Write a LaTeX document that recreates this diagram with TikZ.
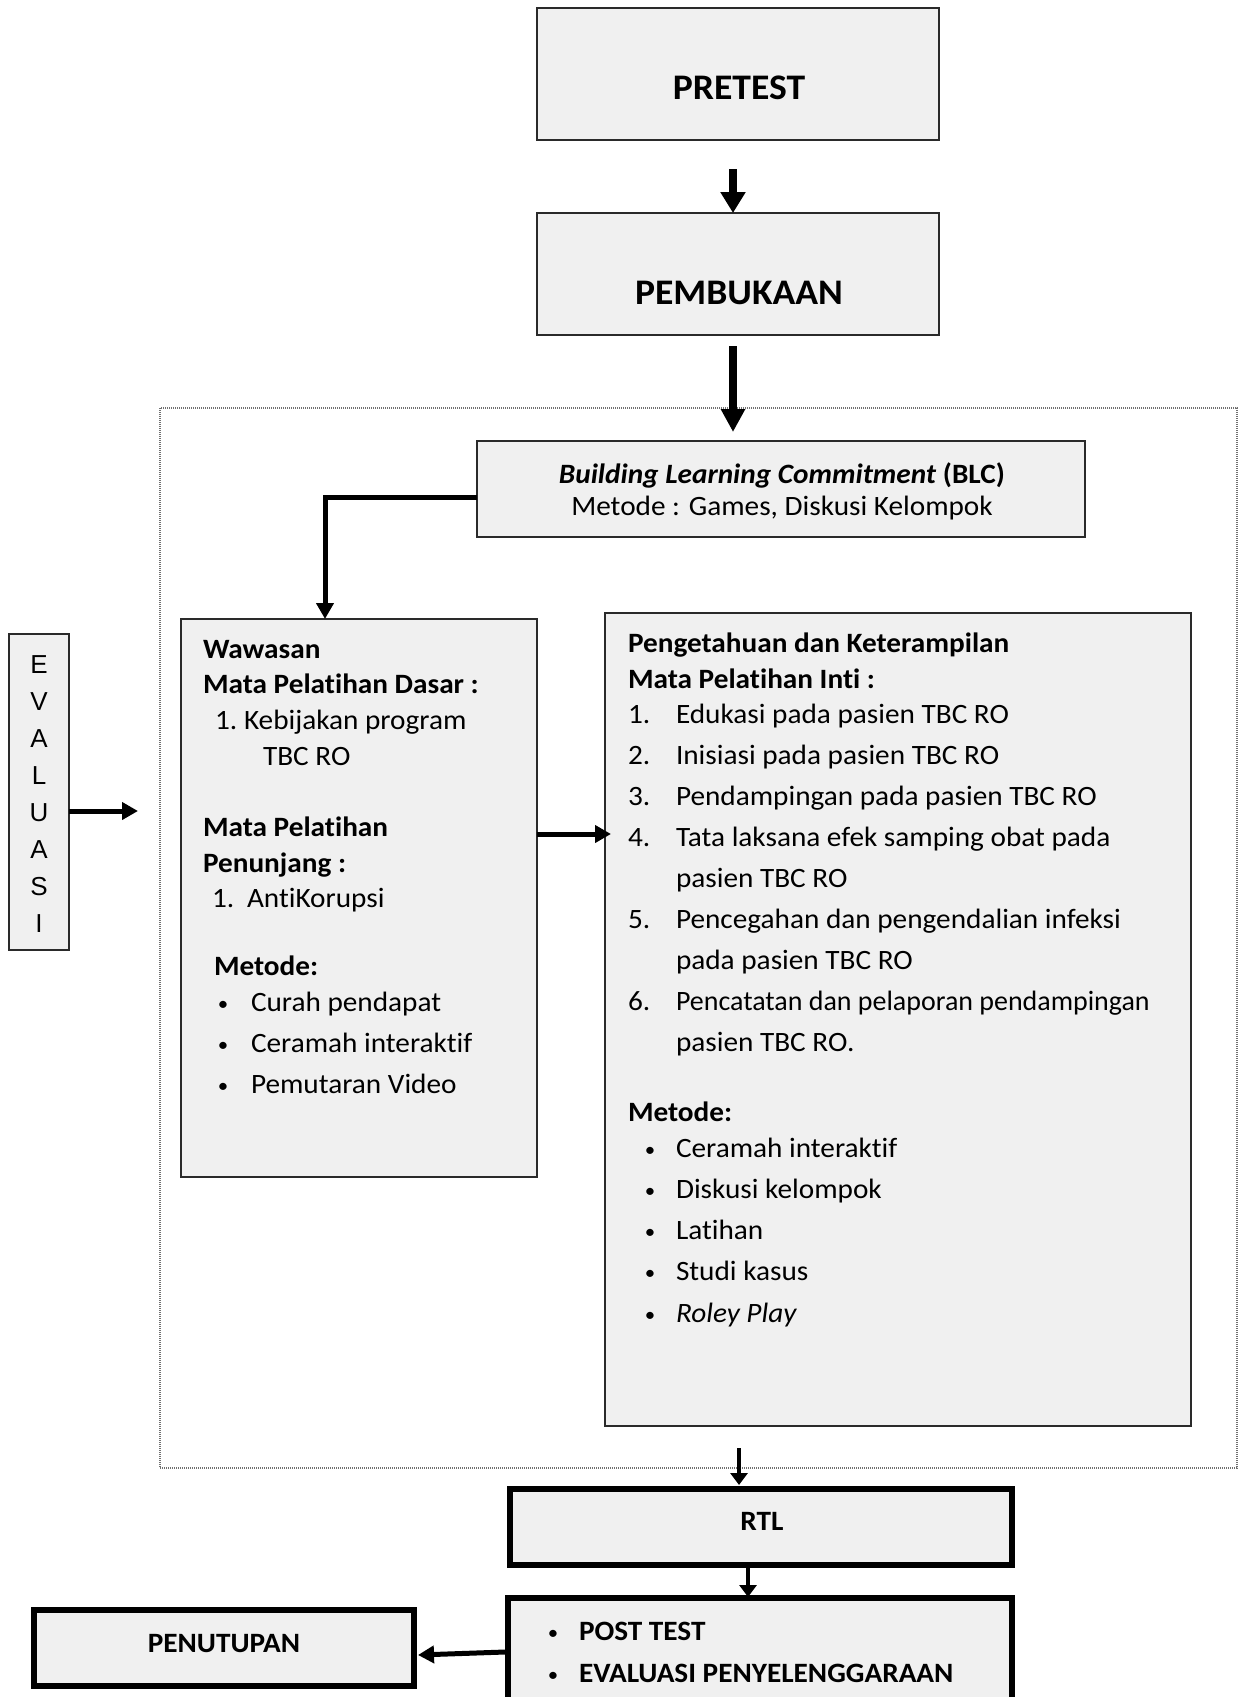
\documentclass[tikz,border=0pt]{standalone}
\usepackage{fontspec}
\setmainfont{Carlito}[Ligatures=NoCommon, FakeStretch=1.045]
\newfontfamily\arialfont{Liberation Sans}
\usetikzlibrary{arrows.meta}
\definecolor{boxfill}{HTML}{F0F0F0}
\definecolor{boxline}{HTML}{2A2A2A}
\definecolor{dotline}{HTML}{707070}
\tikzset{
  thinbox/.style={draw=boxline, line width=1.6pt, fill=boxfill, inner sep=0pt, outer sep=0pt},
  thickbox/.style={draw=black, line width=6pt, fill=boxfill, inner sep=0pt, outer sep=0pt},
  dotbox/.style={draw=dotline, line width=1.1pt, dash pattern=on 1pt off 1pt, inner sep=0pt, outer sep=0pt},
  body/.style={anchor=base west, inner sep=0pt, outer sep=0pt, font=\fontsize{28}{33}\selectfont},
  bodyc/.style={anchor=base, inner sep=0pt, outer sep=0pt, font=\fontsize{28}{33}\selectfont},
  bul/.style={anchor=base, inner sep=0pt, outer sep=0pt, font=\fontsize{20}{24}\selectfont},
  bigtitle/.style={anchor=base, inner sep=0pt, outer sep=0pt, font=\fontsize{36}{42}\selectfont\bfseries},
  smalltitle/.style={anchor=base, inner sep=0pt, outer sep=0pt, font=\fontsize{28}{33}\selectfont\bfseries},
  evl/.style={anchor=base, inner sep=0pt, outer sep=0pt, font=\fontsize{26}{30}\arialfont},
  arrA/.style={-{Triangle[length=21pt,width=24pt]}, line width=7.5pt},
  arrB/.style={-{Triangle[length=23pt,width=23pt]}, line width=8.5pt},
  arrC/.style={-{Triangle[length=16pt,width=17pt]}, line width=5pt},
  arrD/.style={-{Triangle[length=12pt,width=17pt]}, line width=4pt},
}
\begin{document}
\begin{tikzpicture}[x=1pt,y=-1pt]
\path[use as bounding box, clip] (0,0) rectangle (1240,1697);
\fill[white] (0,0) rectangle (1240,1697);

% frame
\node[dotbox, minimum width=1077pt, minimum height=1060pt] (frame) at (698.5,938) {};

% top boxes
\node[thinbox, minimum width=402pt, minimum height=132pt] (pretest) at (738,74) {};
\node[bigtitle] (pretesttxt) at (739,99) {PRETEST};
\node[thinbox, minimum width=402pt, minimum height=122pt] (pembukaan) at (738,274) {};
\node[bigtitle] (pembukaantxt) at (739,304) {PEMBUKAAN};

\coordinate (a1s) at (733,169);
\draw[arrA] (a1s) -- (a1s |- pembukaan.north);
\coordinate (a2s) at (733,346);
\coordinate (a2e) at (733,432);
\draw[arrB] (a2s) -- (a2e);

% BLC
\node[thinbox, minimum width=608pt, minimum height=96pt] (blc) at (781,489) {};
\node[bodyc] (blc1) at (782,483) {\textbf{\textit{Building Learning Commitment}} \textbf{(BLC)}};
\node[bodyc] (blc2) at (782,515) {Metode : Games, Diskusi Kelompok};

% left box
\node[thinbox, minimum width=356pt, minimum height=558pt] (wawasan) at (359,898) {};
\node[body] (w1) at (203,658) {\bfseries Wawasan};
\node[body] (w2) at (203,693) {\bfseries Mata Pelatihan Dasar :};
\node[body] (w3n) at (215,729) {1.};
\node[body] (w3) at (244,729) {Kebijakan program};
\node[body] (w4) at (263,765) {TBC RO};
\node[body] (w5) at (203,836) {\bfseries Mata Pelatihan};
\node[body] (w6) at (203,872) {\bfseries Penunjang :};
\node[body] (w7n) at (212,907) {1.};
\node[body] (w7) at (247,907) {AntiKorupsi};
\node[body] (w8) at (214,975) {\bfseries Metode:};
\node[bul] (wb1) at (223,1010) {\textbullet};
\node[body] (wm1) at (251,1011) {Curah pendapat};
\node[bul] (wb2) at (223,1051) {\textbullet};
\node[body] (wm2) at (251,1052) {Ceramah interaktif};
\node[bul] (wb3) at (223,1092) {\textbullet};
\node[body] (wm3) at (251,1093) {Pemutaran Video};

% right box
\node[thinbox, minimum width=586pt, minimum height=813pt] (inti) at (898,1019.5) {};
\node[body] (r1) at (628,652) {\bfseries Pengetahuan dan Keterampilan};
\node[body] (r2) at (628,688) {\bfseries Mata Pelatihan Inti :};
\node[body] (rn1) at (628,723) {1.};
\node[body] (ri1) at (676,723) {Edukasi pada pasien TBC RO};
\node[body] (rn2) at (628,764) {2.};
\node[body] (ri2) at (676,764) {Inisiasi pada pasien TBC RO};
\node[body] (rn3) at (628,805) {3.};
\node[body] (ri3) at (676,805) {Pendampingan pada pasien TBC RO};
\node[body] (rn4) at (628,846) {4.};
\node[body] (ri4) at (676,846) {Tata laksana efek samping obat pada};
\node[body] (ri4b) at (676,887) {pasien TBC RO};
\node[body] (rn5) at (628,928) {5.};
\node[body] (ri5) at (676,928) {Pencegahan dan pengendalian infeksi};
\node[body] (ri5b) at (676,969) {pada pasien TBC RO};
\node[body] (rn6) at (628,1010) {6.};
\node[body] (ri6) at (676,1010) {\scalebox{0.956}[1]{Pencatatan dan pelaporan pendampingan}};
\node[body] (ri6b) at (676,1051) {pasien TBC RO.};
\node[body] (rm0) at (628,1121) {\bfseries Metode:};
\node[bul] (rb1) at (650,1156) {\textbullet};
\node[body] (rm1) at (676,1157) {Ceramah interaktif};
\node[bul] (rb2) at (650,1197) {\textbullet};
\node[body] (rm2) at (676,1198) {Diskusi kelompok};
\node[bul] (rb3) at (650,1238) {\textbullet};
\node[body] (rm3) at (676,1239) {Latihan};
\node[bul] (rb4) at (650,1279) {\textbullet};
\node[body] (rm4) at (676,1280) {Studi kasus};
\node[bul] (rb5) at (650,1321) {\textbullet};
\node[body] (rm5) at (676,1322) {\itshape Roley Play};

% EVALUASI
\node[thinbox, minimum width=60pt, minimum height=316pt] (evalbox) at (39,792) {};
\foreach \l [count=\i] in {E,V,A,L,U,A,S,I}{
  \node[evl] (ev\i) at (39,{673+37*(\i-1)}) {\l};
}

% connectors in frame
\coordinate (elb) at (325,497);
\draw[arrC] (blc.west |- elb) -- (elb) -- (elb |- wawasan.north);
\coordinate (eva) at (138,811);
\draw[arrC] (evalbox.east |- eva) -- (eva);
\coordinate (lr) at (611,834);
\draw[arrC] (wawasan.east |- lr) -- (lr);

% bottom
\node[thickbox, minimum width=502pt, minimum height=76pt] (rtl) at (761,1527) {};
\node[smalltitle] (rtltxt) at (762,1530) {RTL};
\node[thickbox, minimum width=504pt, minimum height=124pt] (post) at (760,1660) {};
\node[bul] (pb1) at (553,1639) {\textbullet};
\node[body, font=\fontsize{28}{33}\selectfont\bfseries] (p1) at (579,1640) {POST TEST};
\node[bul] (pb2) at (553,1681) {\textbullet};
\node[body, font=\fontsize{28}{33}\selectfont\bfseries] (p2) at (579,1682) {EVALUASI PENYELENGGARAAN};
\node[thickbox, minimum width=380pt, minimum height=76pt] (penutupan) at (224,1648) {};
\node[smalltitle] (penutxt) at (224,1652) {PENUTUPAN};

\coordinate (f1) at (739,1448);
\coordinate (f2) at (739,1485);
\draw[arrD] (f1) -- (f2);
\coordinate (r1s) at (748,1568);
\coordinate (r1e) at (748,1597);
\draw[arrD] (r1s) -- (r1e);
\coordinate (ps) at (505,1652);
\coordinate (pe) at (418,1655);
\draw[arrC] (ps) -- (pe);
\end{tikzpicture}
\end{document}
